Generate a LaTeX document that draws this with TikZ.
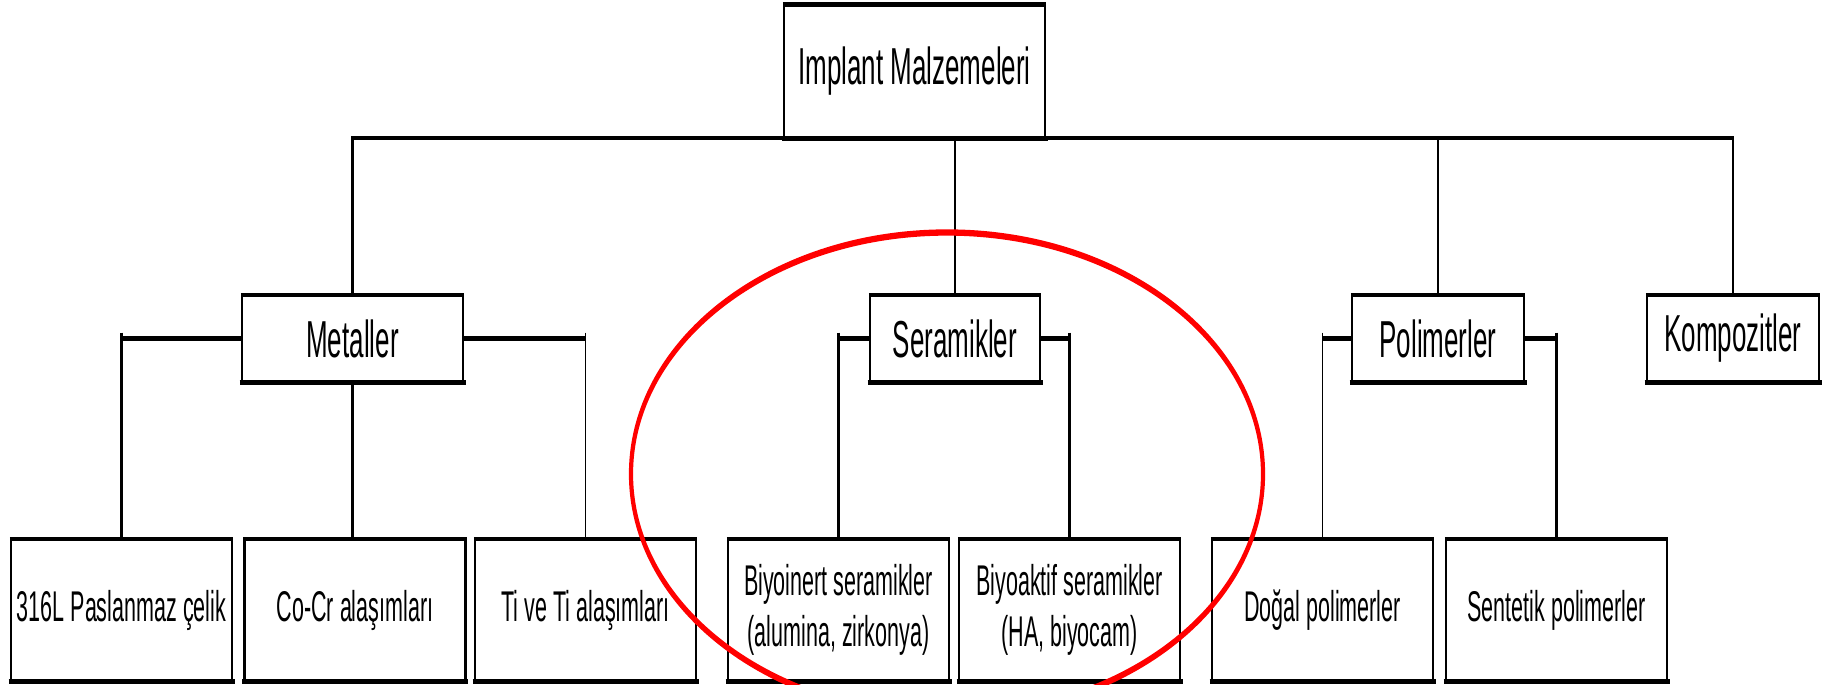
\documentclass[tikz,border=0pt]{standalone}
\usepackage{fontspec}
\setmainfont[FakeStretch=0.5]{Liberation Sans}
\begin{document}
\begin{tikzpicture}[x=1pt,y=-1pt,
  box/.style={draw, line width=2.5pt, inner sep=0pt, align=center, text=black},
  topbox/.style={box, minimum width=261pt, minimum height=131pt, font=\fontsize{52}{58}\selectfont},
  midbox/.style={box, minimum width=170pt, minimum height=85pt, font=\fontsize{52}{58}\selectfont},
  botbox/.style={box, minimum width=221pt, minimum height=140pt, font=\fontsize{43}{51}\selectfont},
  bus/.style={line width=4pt},
  stem/.style={line width=2.5pt},
  thinstem/.style={line width=1.7pt},
  edgebar/.style={line width=4.5pt, shorten <=-1.25pt, shorten >=-1.25pt},
  bracket/.style={line width=4.5pt},
  ring/.style={draw=red, line width=4.2pt}
]
\useasboundingbox (0,0) rectangle (1834,685);

% nodes
\node[topbox] (root) at (914.5,71.5) {Implant Malzemeleri};
\node[midbox, minimum width=221pt] (met) at (352.5,338.5) {Metaller};
\node[midbox] (ser) at (955,338.5) {Seramikler};
\node[midbox, minimum width=172pt] (pol) at (1438,338.5) {Polimerler};
\node[midbox, minimum width=172pt] (kom) at (1733,338.5) {Kompozitler};

\node[botbox] (b1) at (121.5,610) {316L Paslanmaz çelik};
\node[botbox] (b2) at (355,610) {Co-Cr alaşımları};
\node[botbox] (b3) at (585.5,610) {Ti ve Ti alaşımları};
\node[botbox] (b4) at (838.5,610) {Biyoinert seramikler\\(alumina, zirkonya)};
\node[botbox] (b5) at (1069.5,610) {Biyoaktif seramikler\\(HA, biyocam)};
\node[botbox] (b6) at (1322.5,610) {Doğal polimerler};
\node[botbox] (b7) at (1556.5,610) {Sentetik polimerler};

% thick top and bottom edges of the boxes
\foreach \n in {root,met,ser,pol,kom,b1,b2,b3,b4,b5,b6,b7}
  \draw[edgebar] (\n.north west) -- (\n.north east) (\n.south west) -- (\n.south east);

% top level bus
\draw[bus] ([xshift=-1.25pt]met.north |- root.south) -- ([xshift=1.25pt]kom.north |- root.south);
\draw[stem] (met.north |- root.south) -- (met.north);
\draw[thinstem] (ser.north |- root.south) -- (ser.north);
\draw[thinstem] (pol.north |- root.south) -- (pol.north);
\draw[stem] (kom.north |- root.south) -- (kom.north);

% Metaller
\draw[bracket] (met.west) -- (met.west -| b1.north);
\draw[stem] ([yshift=6pt]met.west -| b1.north) -- (b1.north);
\draw[bracket] (met.east) -- (met.east -| b3.north);
\draw[thinstem] ([yshift=6pt]met.east -| b3.north) -- (b3.north);
\draw[stem] (met.south) -- (met.south |- b2.north);

% Seramikler
\draw[bracket] (ser.west) -- (ser.west -| b4.north);
\draw[stem] ([yshift=6pt]ser.west -| b4.north) -- (b4.north);
\draw[bracket] (ser.east) -- (ser.east -| b5.north);
\draw[stem] ([yshift=6pt]ser.east -| b5.north) -- (b5.north);

% Polimerler
\draw[bracket] (pol.west) -- (pol.west -| b6.north);
\draw[thinstem] ([yshift=6pt]pol.west -| b6.north) -- (b6.north);
\draw[bracket] (pol.east) -- (pol.east -| b7.north);
\draw[stem] ([yshift=6pt]pol.east -| b7.north) -- (b7.north);

% red ellipse (stroke thicker vertically, as in the reference)
\begin{scope}[transform canvas={yscale=1.5}]
\clip (0,0) rectangle (1834,456.6);
\draw[ring] (947,316) ellipse [x radius=316pt, y radius=161pt];
\end{scope}
\end{tikzpicture}
\end{document}
